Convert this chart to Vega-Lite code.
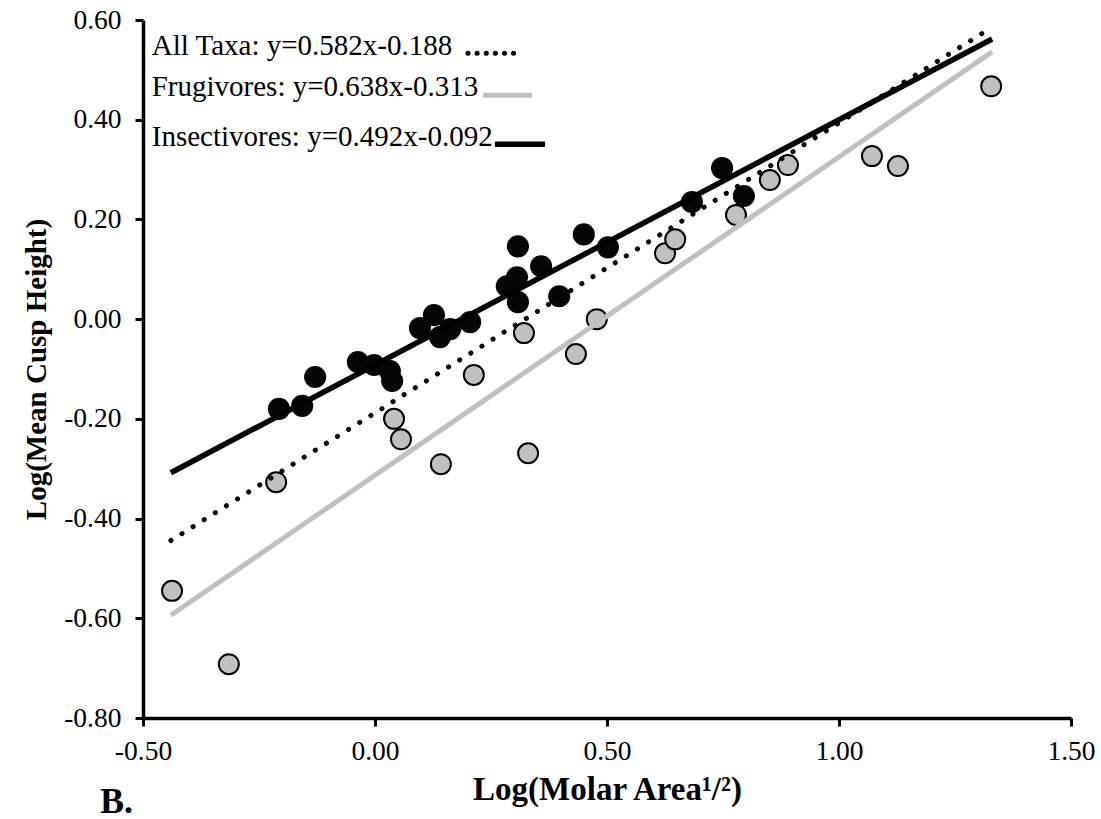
{
  "$schema": "https://vega.github.io/schema/vega-lite/v6.json",
  "width": 928,
  "height": 698,
  "autosize": {"type": "none"},
  "padding": {"left": 143, "top": 20, "right": 30, "bottom": 101},
  "background": "white",
  "config": {
    "view": {"stroke": null},
    "font": "Liberation Serif",
    "style": {
      "guide-label": {"font": "Liberation Serif", "fontSize": 27.5, "fill": "black"},
      "guide-title": {"font": "Liberation Serif", "fontWeight": "bold", "fill": "black"}
    },
    "axis": {
      "grid": false,
      "domainColor": "black",
      "domainWidth": 3.5,
      "tickColor": "black",
      "tickWidth": 3,
      "tickSize": 8,
      "labelFont": "Liberation Serif",
      "labelFontSize": 27.5,
      "labelFontWeight": "normal",
      "labelColor": "black",
      "labelFlush": false,
      "labelOverlap": false,
      "titleFont": "Liberation Serif",
      "titleFontWeight": "bold",
      "titleColor": "black",
      "labelExpr": "replace(format(datum.value, '.2f'), '−', '-')"
    }
  },
  "title": {
    "text": "B.",
    "orient": "bottom",
    "anchor": "start",
    "frame": "group",
    "align": "left",
    "dx": -43,
    "offset": -22,
    "font": "Liberation Serif",
    "fontSize": 36,
    "fontWeight": "bold",
    "color": "black"
  },
  "datasets": {
    "points": [
      {"diet": "Insectivores", "x": -0.207, "y": -0.180},
      {"diet": "Insectivores", "x": -0.157, "y": -0.174},
      {"diet": "Insectivores", "x": -0.129, "y": -0.116},
      {"diet": "Insectivores", "x": -0.037, "y": -0.086},
      {"diet": "Insectivores", "x": -0.002, "y": -0.092},
      {"diet": "Insectivores", "x": 0.032, "y": -0.104},
      {"diet": "Insectivores", "x": 0.037, "y": -0.124},
      {"diet": "Insectivores", "x": 0.097, "y": -0.018},
      {"diet": "Insectivores", "x": 0.127, "y": 0.008},
      {"diet": "Insectivores", "x": 0.140, "y": -0.036},
      {"diet": "Insectivores", "x": 0.162, "y": -0.020},
      {"diet": "Insectivores", "x": 0.205, "y": -0.006},
      {"diet": "Insectivores", "x": 0.284, "y": 0.066},
      {"diet": "Insectivores", "x": 0.306, "y": 0.084},
      {"diet": "Insectivores", "x": 0.308, "y": 0.146},
      {"diet": "Insectivores", "x": 0.308, "y": 0.034},
      {"diet": "Insectivores", "x": 0.358, "y": 0.106},
      {"diet": "Insectivores", "x": 0.397, "y": 0.046},
      {"diet": "Insectivores", "x": 0.450, "y": 0.170},
      {"diet": "Insectivores", "x": 0.502, "y": 0.144},
      {"diet": "Insectivores", "x": 0.683, "y": 0.235},
      {"diet": "Insectivores", "x": 0.748, "y": 0.303},
      {"diet": "Insectivores", "x": 0.795, "y": 0.247},
      {"diet": "Frugivores", "x": -0.4375, "y": -0.545},
      {"diet": "Frugivores", "x": -0.315, "y": -0.692},
      {"diet": "Frugivores", "x": -0.213, "y": -0.327},
      {"diet": "Frugivores", "x": 0.041, "y": -0.200},
      {"diet": "Frugivores", "x": 0.056, "y": -0.241},
      {"diet": "Frugivores", "x": 0.142, "y": -0.291},
      {"diet": "Frugivores", "x": 0.213, "y": -0.112},
      {"diet": "Frugivores", "x": 0.321, "y": -0.028},
      {"diet": "Frugivores", "x": 0.330, "y": -0.269},
      {"diet": "Frugivores", "x": 0.433, "y": -0.070},
      {"diet": "Frugivores", "x": 0.478, "y": 0.000},
      {"diet": "Frugivores", "x": 0.625, "y": 0.132},
      {"diet": "Frugivores", "x": 0.647, "y": 0.160},
      {"diet": "Frugivores", "x": 0.778, "y": 0.209},
      {"diet": "Frugivores", "x": 0.851, "y": 0.279},
      {"diet": "Frugivores", "x": 0.890, "y": 0.309},
      {"diet": "Frugivores", "x": 1.071, "y": 0.327},
      {"diet": "Frugivores", "x": 1.127, "y": 0.307},
      {"diet": "Frugivores", "x": 1.328, "y": 0.467}
    ],
    "fits": [
      {"series": "All Taxa", "x": -0.44, "y": -0.444},
      {"series": "All Taxa", "x": 1.31, "y": 0.574},
      {"series": "Frugivores", "x": -0.44, "y": -0.594},
      {"series": "Frugivores", "x": 1.33, "y": 0.536},
      {"series": "Insectivores", "x": -0.44, "y": -0.308},
      {"series": "Insectivores", "x": 1.33, "y": 0.562}
    ]
  },
  "layer": [
    {
      "data": {"name": "points"},
      "transform": [{"filter": "datum.diet === 'Insectivores'"}],
      "mark": {"type": "point", "shape": "circle", "filled": true, "fill": "#050505", "strokeWidth": 0, "size": 490, "opacity": 1},
      "encoding": {
        "x": {
          "field": "x", "type": "quantitative",
          "scale": {"domain": [-0.5, 1.5], "nice": false, "zero": false},
          "axis": {"values": [-0.5, 0, 0.5, 1, 1.5], "title": "Log(Molar Area¹/²)", "labelFont": "Liberation Serif", "labelFontSize": 27.5, "labelPadding": 11, "titleFont": "Liberation Serif", "titleFontSize": 33, "titlePadding": 9}
        },
        "y": {
          "field": "y", "type": "quantitative",
          "scale": {"domain": [-0.8, 0.6], "nice": false, "zero": false},
          "axis": {"values": [-0.8, -0.6, -0.4, -0.2, 0, 0.2, 0.4, 0.6], "title": "Log(Mean Cusp Height)", "labelFont": "Liberation Serif", "labelFontSize": 27.5, "labelPadding": 14, "titleFont": "Liberation Serif", "titleFontSize": 29, "titlePadding": 12}
        }
      }
    },
    {
      "data": {"name": "points"},
      "transform": [{"filter": "datum.diet === 'Frugivores'"}],
      "mark": {"type": "point", "shape": "circle", "filled": true, "fill": "#c0c0c0", "stroke": "black", "strokeWidth": 2, "size": 400, "opacity": 1},
      "encoding": {
        "x": {"field": "x", "type": "quantitative"},
        "y": {"field": "y", "type": "quantitative"}
      }
    },
    {
      "data": {"name": "fits"},
      "transform": [{"filter": "datum.series === 'Frugivores'"}],
      "mark": {"type": "line", "color": "#c0c0c0", "strokeWidth": 5},
      "encoding": {
        "x": {"field": "x", "type": "quantitative"},
        "y": {"field": "y", "type": "quantitative"}
      }
    },
    {
      "data": {"name": "fits"},
      "transform": [{"filter": "datum.series === 'All Taxa'"}],
      "mark": {"type": "line", "color": "black", "strokeWidth": 5, "strokeCap": "round", "strokeDash": [0.1, 13]},
      "encoding": {
        "x": {"field": "x", "type": "quantitative"},
        "y": {"field": "y", "type": "quantitative"}
      }
    },
    {
      "data": {"name": "fits"},
      "transform": [{"filter": "datum.series === 'Insectivores'"}],
      "mark": {"type": "line", "color": "black", "strokeWidth": 5.5},
      "encoding": {
        "x": {"field": "x", "type": "quantitative"},
        "y": {"field": "y", "type": "quantitative"}
      }
    },
    {
      "data": {"values": [{"label": "All Taxa: y=0.582x-0.188"}]},
      "mark": {"type": "text", "align": "left", "baseline": "alphabetic", "font": "Liberation Serif", "fontSize": 29, "color": "black"},
      "encoding": {"x": {"datum": -0.4812}, "y": {"datum": 0.5295}, "text": {"field": "label"}}
    },
    {
      "data": {"values": [{"label": "Frugivores: y=0.638x-0.313"}]},
      "mark": {"type": "text", "align": "left", "baseline": "alphabetic", "font": "Liberation Serif", "fontSize": 29, "color": "black"},
      "encoding": {"x": {"datum": -0.4812}, "y": {"datum": 0.4473}, "text": {"field": "label"}}
    },
    {
      "data": {"values": [{"label": "Insectivores: y=0.492x-0.092"}]},
      "mark": {"type": "text", "align": "left", "baseline": "alphabetic", "font": "Liberation Serif", "fontSize": 29, "color": "black"},
      "encoding": {"x": {"datum": -0.4812}, "y": {"datum": 0.347}, "text": {"field": "label"}}
    },
    {
      "data": {"values": [{"series": "All Taxa"}]},
      "mark": {"type": "rule", "color": "black", "strokeWidth": 5, "strokeCap": "round", "strokeDash": [0.1, 9]},
      "encoding": {"x": {"datum": 0.2004}, "x2": {"datum": 0.3082}, "y": {"datum": 0.5335}}
    },
    {
      "data": {"values": [{"series": "Frugivores"}]},
      "mark": {"type": "rule", "color": "#c0c0c0", "strokeWidth": 5},
      "encoding": {"x": {"datum": 0.2328}, "x2": {"datum": 0.3384}, "y": {"datum": 0.4493}}
    },
    {
      "data": {"values": [{"series": "Insectivores"}]},
      "mark": {"type": "rule", "color": "black", "strokeWidth": 5.5},
      "encoding": {"x": {"datum": 0.2586}, "x2": {"datum": 0.3664}, "y": {"datum": 0.351}}
    }
  ]
}
